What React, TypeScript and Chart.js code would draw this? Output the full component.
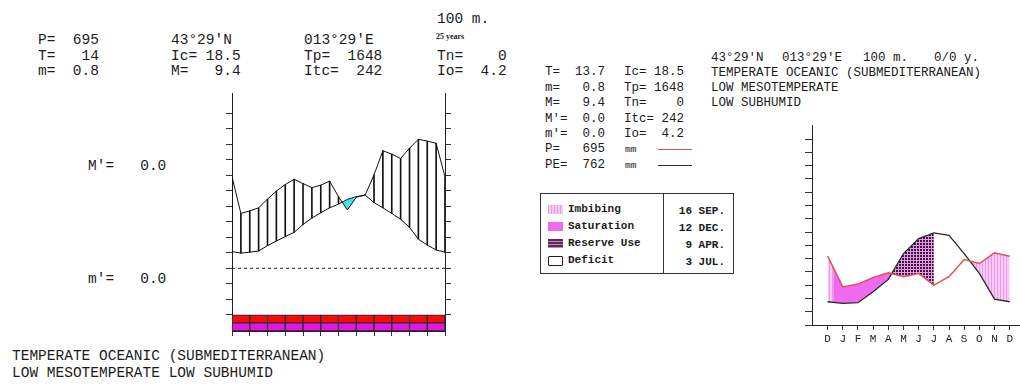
import React, { useEffect, useRef } from 'react';
import { Chart, registerables } from 'chart.js';

Chart.register(...registerables);

// ---------- Left diagram (bioclimatic, 25 half-month points) ----------
const LEFT_X = [0, 1, 2, 3, 4, 5, 6, 7, 8, 9, 10, 11, 12, 13, 14, 15, 16, 17, 18, 19, 20, 21, 22, 23, 24];
const TEMP_CURVE = [5.4, 4.9, 5.2, 5.6, 7.3, 8.8, 10.2, 11.6, 14.1, 16.2, 17.9, 19.5, 20.7, 22.2, 23.1, 23.6, 21.2, 19.5, 17.7, 15.8, 13.2, 9.4, 7.5, 5.9, 5.2];
const PREC_CURVE = [29.5, 17.7, 18.5, 19.5, 22.3, 24.9, 27.0, 28.7, 27.3, 26.0, 26.8, 28.1, 23.1, 18.8, 22.9, 23.6, 30.1, 37.9, 36.8, 35.4, 38.7, 41.6, 41.0, 40.3, 29.5];
const LEFT_TICKS = [-15, -10, -5, 0, 5, 10, 15, 20, 25, 30, 35, 40, 45, 50];
const LEFT_RANGE = [-20.2, 56.5];
const ZERO_LINE = [0, 0];
const BAND_MONTHS = ['J', 'F', 'M', 'A', 'M', 'J', 'J', 'A', 'S', 'O', 'N', 'D'];
const BAND_UPPER = [-15, -17.6];
const BAND_LOWER = [-17.6, -20.2];

// ---------- Right diagram (water balance) ----------
const MONTHS = ['D', 'J', 'F', 'M', 'A', 'M', 'J', 'J', 'A', 'S', 'O', 'N', 'D'];
const P_MONTHLY = [51.8, 28.7, 30.8, 35.8, 39.3, 36.3, 38.8, 30.0, 36.3, 49.3, 46.3, 54.3, 51.8];
const PE_MONTHLY = [17.5, 16.3, 16.8, 25.0, 34.3, 53.8, 65.0, 69.3, 67.5, 53.8, 38.8, 19.5, 17.5];
const RIGHT_TICKS = [0, 10, 20, 30, 40, 50, 60, 70, 80, 90, 100, 110, 120, 130, 140];
const RIGHT_RANGE = [0, 150];
const RIGHT_X_RANGE = [-1.03, 12.63];
const RESERVE_END = 7; // July
const SATURATION_START = 0.37;

const MONO = '"Liberation Mono", "Courier New", monospace';
const INK = '#1c1c1c';
const SAT_COLOR = '#ef6aef';

function tile(ctx: CanvasRenderingContext2D, w: number, h: number, draw: (g: CanvasRenderingContext2D) => void) {
  const c = document.createElement('canvas');
  c.width = w;
  c.height = h;
  const g = c.getContext('2d')!;
  draw(g);
  return ctx.createPattern(c, 'repeat')!;
}
const drawStripe = (g: CanvasRenderingContext2D) => {
  g.fillStyle = '#f7caf7';
  g.fillRect(0, 0, 3, 1);
  g.fillStyle = '#e79ae7';
  g.fillRect(0, 0, 1, 1);
};
const drawCheck = (g: CanvasRenderingContext2D) => {
  g.fillStyle = '#d8a4d8';
  g.fillRect(0, 0, 3, 3);
  g.fillStyle = '#4c0a4c';
  g.fillRect(1, 1, 2, 2);
};

const tickGrid = (len: number) => ({ drawOnChartArea: false, drawTicks: true, tickLength: len, color: '#333', lineWidth: 1 });

function Txt({ x, y, s, fs, weight, family, color }: any) {
  return (
    <div
      style={{
        position: 'absolute',
        left: x,
        top: y - fs * 0.5,
        fontSize: fs,
        lineHeight: `${fs}px`,
        fontFamily: family || MONO,
        fontWeight: weight || 'normal',
        whiteSpace: 'pre',
        color: color || INK,
      }}
    >
      {s}
    </div>
  );
}

export default function App() {
  const leftRef = useRef<HTMLCanvasElement>(null);
  const rightRef = useRef<HTMLCanvasElement>(null);

  useEffect(() => {
    Chart.defaults.font.family = MONO;
    const lctx = leftRef.current!.getContext('2d')!;
    const left = new Chart(lctx, {
      type: 'line',
      data: {
        labels: BAND_MONTHS,
        datasets: [
          {
            type: 'line',
            label: 'T',
            data: LEFT_X.map((x, i) => ({ x, y: TEMP_CURVE[i] })),
            xAxisID: 'x',
            yAxisID: 'y',
            borderColor: '#111',
            borderWidth: 1,
            pointRadius: 0,
            fill: false,
            order: 1,
          },
          {
            type: 'line',
            label: 'P',
            data: LEFT_X.map((x, i) => ({ x, y: PREC_CURVE[i] })),
            xAxisID: 'x',
            yAxisID: 'y',
            borderColor: '#111',
            borderWidth: 1,
            pointRadius: 0,
            fill: { target: 0, above: 'rgba(0,0,0,0)', below: '#3fe3ec' },
            order: 1,
          },
          {
            type: 'bar',
            label: 'hatch',
            data: LEFT_X.filter((_, i) => PREC_CURVE[i] >= TEMP_CURVE[i]).map((x) => ({ x, y: [TEMP_CURVE[x], PREC_CURVE[x]] })),
            xAxisID: 'x',
            yAxisID: 'y',
            backgroundColor: '#111',
            barThickness: 1,
            borderWidth: 0,
            grouped: false,
            order: 2,
          },
          {
            type: 'line',
            label: 'zero',
            data: [
              { x: LEFT_X[0], y: ZERO_LINE[0] },
              { x: LEFT_X[LEFT_X.length - 1], y: ZERO_LINE[1] },
            ],
            xAxisID: 'x',
            yAxisID: 'y',
            borderColor: '#222',
            borderWidth: 1,
            borderDash: [3, 3],
            pointRadius: 0,
            fill: false,
            order: 3,
          },
          {
            type: 'bar',
            label: 'band1',
            data: BAND_MONTHS.map(() => BAND_UPPER),
            xAxisID: 'xm',
            yAxisID: 'y',
            backgroundColor: '#f20c0c',
            borderColor: '#2a2a2a',
            borderWidth: 1,
            borderSkipped: false,
            categoryPercentage: 1,
            barPercentage: 1,
            grouped: false,
            order: 0,
          },
          {
            type: 'bar',
            label: 'band2',
            data: BAND_MONTHS.map(() => BAND_LOWER),
            xAxisID: 'xm',
            yAxisID: 'y',
            backgroundColor: '#e414e4',
            borderColor: '#2a2a2a',
            borderWidth: 1,
            borderSkipped: false,
            categoryPercentage: 1,
            barPercentage: 1,
            grouped: false,
            order: 0,
          },
        ] as any,
      },
      options: {
        responsive: false,
        animation: false,
        events: [],
        layout: { padding: 0 },
        plugins: { legend: { display: false }, tooltip: { enabled: false } },
        scales: {
          x: { type: 'linear', min: 0, max: 24, display: false, offset: false },
          xm: {
            type: 'category',
            position: 'bottom',
            offset: true,
            grid: { ...tickGrid(5), offset: true },
            ticks: { display: false },
            border: { display: true, color: '#222' },
            afterFit: (s: any) => { s.height = 5; },
          },
          y: {
            type: 'linear',
            position: 'left',
            min: LEFT_RANGE[0],
            max: LEFT_RANGE[1],
            grid: tickGrid(6),
            ticks: { display: false },
            border: { color: '#222' },
            afterBuildTicks: (s: any) => { s.ticks = LEFT_TICKS.map((v) => ({ value: v })); },
            afterFit: (s: any) => { s.width = 6; },
          },
          y2: {
            type: 'linear',
            position: 'right',
            min: LEFT_RANGE[0],
            max: LEFT_RANGE[1],
            grid: tickGrid(6),
            ticks: { display: false },
            border: { color: '#222' },
            afterBuildTicks: (s: any) => { s.ticks = LEFT_TICKS.map((v) => ({ value: v })); },
            afterFit: (s: any) => { s.width = 6; },
          },
        } as any,
      },
    });

    const rctx = rightRef.current!.getContext('2d')!;
    const stripe = tile(rctx, 3, 1, drawStripe);
    const check = tile(rctx, 3, 3, drawCheck);
    const right = new Chart(rctx, {
      type: 'line',
      data: {
        datasets: [
          {
            label: 'P',
            data: MONTHS.map((_, i) => ({ x: i, y: P_MONTHLY[i] })),
            borderColor: '#e0525a',
            borderWidth: 1.5,
            pointRadius: 0,
            fill: false,
            order: 0,
          },
          {
            label: 'PE',
            data: MONTHS.map((_, i) => ({ x: i, y: PE_MONTHLY[i] })),
            borderColor: '#2a2a2a',
            borderWidth: 1.3,
            pointRadius: 0,
            fill: false,
            order: 0,
          },
          {
            label: 'fillA',
            data: MONTHS.map((_, i) => ({ x: i, y: i <= RESERVE_END ? P_MONTHLY[i] : null })),
            borderWidth: 0,
            borderColor: 'rgba(0,0,0,0)',
            pointRadius: 0,
            fill: { target: 1, above: SAT_COLOR, below: check },
            order: 1,
          },
          {
            label: 'fillB',
            data: MONTHS.map((_, i) => ({ x: i, y: i >= RESERVE_END ? P_MONTHLY[i] : null })),
            borderWidth: 0,
            borderColor: 'rgba(0,0,0,0)',
            pointRadius: 0,
            fill: { target: 1, above: stripe, below: 'rgba(0,0,0,0)' },
            order: 1,
          },
        ] as any,
      },
      options: {
        responsive: false,
        animation: false,
        events: [],
        layout: { padding: 0 },
        plugins: { legend: { display: false }, tooltip: { enabled: false } },
        scales: {
          x: {
            type: 'linear',
            min: RIGHT_X_RANGE[0],
            max: RIGHT_X_RANGE[1],
            offset: false,
            grid: tickGrid(5),
            border: { color: '#222' },
            ticks: {
              autoSkip: false,
              maxRotation: 0,
              padding: 2,
              color: '#222',
              font: { family: MONO, size: 11 },
              callback: (_v: any, i: number) => MONTHS[i],
            },
            afterBuildTicks: (s: any) => { s.ticks = MONTHS.map((_, i) => ({ value: i })); },
            afterFit: (s: any) => { s.height = 25; },
          },
          y: {
            type: 'linear',
            min: RIGHT_RANGE[0],
            max: RIGHT_RANGE[1],
            grid: tickGrid(7),
            ticks: { display: false },
            border: { color: '#222' },
            afterBuildTicks: (s: any) => { s.ticks = RIGHT_TICKS.map((v) => ({ value: v })); },
            afterFit: (s: any) => { s.width = 7; },
          },
        } as any,
      },
    });

    // texture for the Dec->Apr surplus: imbibing stripes before saturation start, saturation colour after
    const split = right.scales.x.getPixelForValue(SATURATION_START);
    const tex = document.createElement('canvas');
    tex.width = right.width;
    tex.height = right.height;
    const tg = tex.getContext('2d')!;
    const stripeTile = document.createElement('canvas');
    stripeTile.width = 3;
    stripeTile.height = 1;
    drawStripe(stripeTile.getContext('2d')!);
    tg.fillStyle = tg.createPattern(stripeTile, 'repeat')!;
    tg.fillRect(0, 0, split, tex.height);
    tg.fillStyle = SAT_COLOR;
    tg.fillRect(split, 0, tex.width - split, tex.height);
    const texPattern = rctx.createPattern(tex, 'no-repeat')!;
    (right.data.datasets[2] as any).fill = { target: 1, above: texPattern, below: check };
    right.update();

    return () => {
      left.destroy();
      right.destroy();
    };
  }, []);

  const L = 14.5;
  const R = 12.5;
  const G = 11;
  return (
    <div style={{ position: 'fixed', left: 0, top: 0, width: 1020, height: 387, background: '#fff', overflow: 'hidden' }}>
      {/* left header */}
      <Txt x={38} y={40} fs={L} s="P=  695" />
      <Txt x={38} y={56} fs={L} s="T=   14" />
      <Txt x={38} y={71} fs={L} s="m=  0.8" />
      <Txt x={171} y={40} fs={L} s="43°29'N" />
      <Txt x={171} y={56} fs={L} s="Ic= 18.5" />
      <Txt x={171} y={71} fs={L} s="M=   9.4" />
      <Txt x={304} y={40} fs={L} s="013°29'E" />
      <Txt x={304} y={56} fs={L} s="Tp=  1648" />
      <Txt x={304} y={71} fs={L} s="Itc=  242" />
      <Txt x={437} y={19} fs={L} s="100 m." />
      <Txt x={436} y={37} fs={8} weight="bold" family='"Liberation Serif", serif' s="25 years" />
      <Txt x={437} y={56} fs={L} s="Tn=    0" />
      <Txt x={437} y={71} fs={L} s="Io=  4.2" />
      <Txt x={88} y={166} fs={L} s="M'=   0.0" />
      <Txt x={88} y={279} fs={L} s="m'=   0.0" />
      <Txt x={12} y={356} fs={L} s="TEMPERATE OCEANIC (SUBMEDITERRANEAN)" />
      <Txt x={12} y={373} fs={L} s="LOW MESOTEMPERATE LOW SUBHUMID" />

      <canvas ref={leftRef} width={225} height={243} style={{ position: 'absolute', left: 226, top: 93 }} />

      {/* right header */}
      <Txt x={545} y={72} fs={R} s="T=  13.7" />
      <Txt x={545} y={88} fs={R} s="m=   0.8" />
      <Txt x={545} y={103} fs={R} s="M=   9.4" />
      <Txt x={545} y={119} fs={R} s="M'=  0.0" />
      <Txt x={545} y={134} fs={R} s="m'=  0.0" />
      <Txt x={545} y={149} fs={R} s="P=   695" />
      <Txt x={545} y={165} fs={R} s="PE=  762" />
      <Txt x={624} y={72} fs={R} s="Ic= 18.5" />
      <Txt x={624} y={88} fs={R} s="Tp= 1648" />
      <Txt x={624} y={103} fs={R} s="Tn=    0" />
      <Txt x={624} y={119} fs={R} s="Itc= 242" />
      <Txt x={624} y={134} fs={R} s="Io=  4.2" />
      <Txt x={625} y={150} fs={9.5} s="mm" color="#222" />
      <Txt x={625} y={166} fs={9.5} s="mm" color="#222" />
      <div style={{ position: 'absolute', left: 658, top: 149, width: 34, height: 1, background: '#e0525a' }} />
      <div style={{ position: 'absolute', left: 658, top: 165, width: 34, height: 1, background: '#333' }} />
      <Txt x={711} y={58} fs={R} s="43°29'N" />
      <Txt x={782} y={58} fs={R} s="013°29'E" />
      <Txt x={863} y={58} fs={R} s="100 m." />
      <Txt x={934} y={58} fs={R} s="0/0 y." />
      <Txt x={711} y={73} fs={R} s="TEMPERATE OCEANIC (SUBMEDITERRANEAN)" />
      <Txt x={711} y={88} fs={R} s="LOW MESOTEMPERATE" />
      <Txt x={711} y={103} fs={R} s="LOW SUBHUMID" />

      {/* legend table */}
      <div style={{ position: 'absolute', left: 540, top: 193, width: 192, height: 79, border: '1px solid #333' }} />
      <div style={{ position: 'absolute', left: 663, top: 193, width: 1, height: 81, background: '#333' }} />
      <div style={{ position: 'absolute', left: 548, top: 205, width: 15, height: 9, background: 'repeating-linear-gradient(90deg, #e79ae7 0 1px, #f7caf7 1px 3px)' }} />
      <div style={{ position: 'absolute', left: 548, top: 222, width: 15, height: 9, background: SAT_COLOR }} />
      <div style={{ position: 'absolute', left: 548, top: 239, width: 15, height: 9, background: 'repeating-linear-gradient(0deg, #b88ab8 0 1px, #5a2a5a 1px 3px)' }} />
      <div style={{ position: 'absolute', left: 548, top: 256, width: 13, height: 8, border: '1px solid #222', borderRadius: 1, background: '#fff' }} />
      <Txt x={568} y={209} fs={G} weight="bold" s="Imbibing" />
      <Txt x={568} y={226} fs={G} weight="bold" s="Saturation" />
      <Txt x={568} y={243} fs={G} weight="bold" s="Reserve Use" />
      <Txt x={568} y={260} fs={G} weight="bold" s="Deficit" />
      <div style={{ position: 'absolute', left: 665, width: 60, top: 203, fontFamily: MONO, fontSize: G, fontWeight: 'bold', lineHeight: '17px', textAlign: 'right', whiteSpace: 'pre', color: INK }}>
        <div>16 SEP.</div>
        <div>12 DEC.</div>
        <div>9 APR.</div>
        <div>3 JUL.</div>
      </div>

      <canvas ref={rightRef} width={215} height={225} style={{ position: 'absolute', left: 805, top: 125 }} />
    </div>
  );
}
